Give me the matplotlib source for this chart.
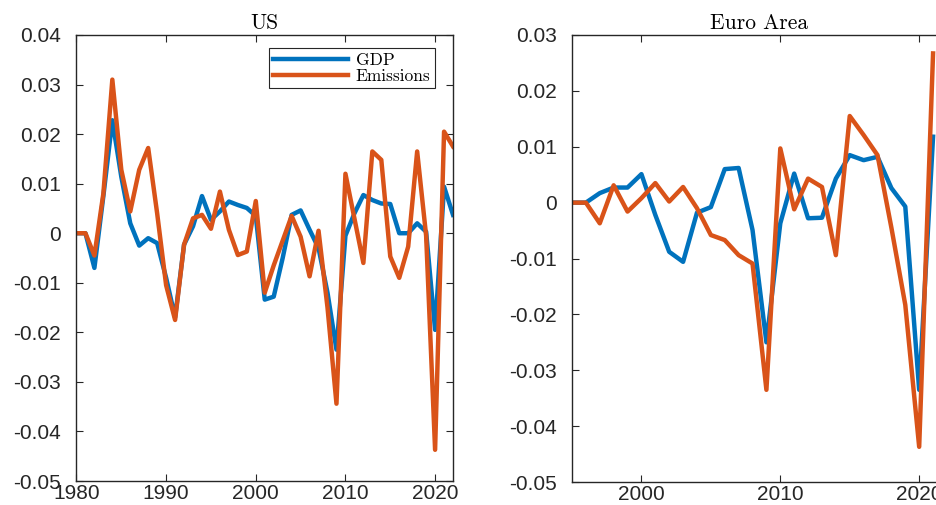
#!/usr/bin/env python3
"""
plot.py - cyclical components of GDP and emissions, US vs Euro Area

Output: out.png
"""

import matplotlib
matplotlib.use("Agg")
import matplotlib.pyplot as plt
from matplotlib.ticker import FuncFormatter, MultipleLocator

# ------------------------------------------------------------
# Data
# ------------------------------------------------------------
us_years = list(range(1980, 2023))
us_gdp = [0.0, 0.0, -0.007, 0.0075, 0.0228, 0.0114, 0.002, -0.0025, -0.001, -0.002,
          -0.009, -0.017, -0.0023, 0.0014, 0.0075, 0.0027, 0.0044, 0.0064, 0.0057, 0.0051,
          0.0035, -0.0134, -0.0128, -0.005, 0.0037, 0.0046, 0.0007, -0.003, -0.012, -0.0235,
          -0.0005, 0.004, 0.0077, 0.0067, 0.006, 0.0059, 0.0, 0.0, 0.002, 0.0003,
          -0.0195, 0.0094, 0.0037]
us_emis = [0.0, 0.0, -0.0045, 0.008, 0.031, 0.0128, 0.0044, 0.0128, 0.0172, 0.004,
           -0.0105, -0.0175, -0.0023, 0.003, 0.0037, 0.0009, 0.0084, 0.0007, -0.0044, -0.0037,
           0.0065, -0.012, -0.0065, -0.0015, 0.0035, -0.0007, -0.0087, 0.0005, -0.015, -0.0344,
           0.012, 0.003, -0.006, 0.0165, 0.0148, -0.0047, -0.009, -0.0027, 0.0165, -0.0005,
           -0.0437, 0.0205, 0.0175]

ea_years = list(range(1995, 2022))
ea_gdp = [0.0, 0.0, 0.0017, 0.0027, 0.0027, 0.0051, -0.0022, -0.0088, -0.0106, -0.0018,
          -0.0008, 0.006, 0.0062, -0.0049, -0.025, -0.0037, 0.0052, -0.0028, -0.0027, 0.0043,
          0.0085, 0.0076, 0.0082, 0.0026, -0.0007, -0.0335, 0.0118]
ea_emis = [0.0, 0.0, -0.0037, 0.0031, -0.0016, 0.0008, 0.0035, 0.0002, 0.0028, -0.001,
           -0.0058, -0.0067, -0.0094, -0.0109, -0.0335, 0.0097, -0.0012, 0.0043, 0.0028, -0.0094,
           0.0155, 0.0121, 0.0085, -0.0045, -0.0183, -0.0437, 0.0267]

# MATLAB default line colours
C_GDP = "#0072BD"
C_EMIS = "#D95319"
AX_COLOR = "#262626"

plt.rcParams["font.family"] = ["Liberation Sans", "DejaVu Sans"]
plt.rcParams["axes.unicode_minus"] = False

SERIF = "cmr10"


def tick_fmt(v, _):
    if abs(v) < 1e-12:
        return "0"
    return f"{v:g}"


def style_axes(ax):
    for s in ax.spines.values():
        s.set_color(AX_COLOR)
        s.set_linewidth(1.0)
    ax.tick_params(direction="in", top=True, right=True, length=5,
                   width=0.8, color=AX_COLOR, labelcolor=AX_COLOR,
                   labelsize=15)
    ax.tick_params(axis="y", pad=11)
    ax.tick_params(axis="x", pad=2.5)
    ax.yaxis.set_major_locator(MultipleLocator(0.01))
    ax.yaxis.set_major_formatter(FuncFormatter(tick_fmt))


fig = plt.figure(figsize=(9.36, 5.05), dpi=100)

# US panel
ax1 = fig.add_axes([0.0817, 0.0475, 0.4023, 0.8832])
ax1.plot(us_years, us_gdp, color=C_GDP, linewidth=3.2, label="GDP")
ax1.plot(us_years, us_emis, color=C_EMIS, linewidth=3.2, label="Emissions")
ax1.set_xlim(1980, 2022)
ax1.set_ylim(-0.05, 0.04)
ax1.set_xticks([1980, 1990, 2000, 2010, 2020])
style_axes(ax1)
ax1.set_title("US", fontfamily=SERIF, fontsize=15.5, pad=4)
leg = ax1.legend(loc="upper right", bbox_to_anchor=(0.952, 0.971),
                 borderaxespad=0, prop={"family": SERIF, "size": 12.5},
                 handlelength=4.3, handletextpad=0.45, labelspacing=0.05,
                 borderpad=0.25, fancybox=False, framealpha=1)
leg.get_frame().set_edgecolor(AX_COLOR)
leg.get_frame().set_linewidth(0.8)

# Euro Area panel (runs past the right edge of the canvas)
ax2 = fig.add_axes([0.6111, 0.0455, 0.4006, 0.8852])
ax2.plot(ea_years, ea_gdp, color=C_GDP, linewidth=3.2)
ax2.plot(ea_years, ea_emis, color=C_EMIS, linewidth=3.2)
ax2.set_xlim(1995, 2022)
ax2.set_ylim(-0.05, 0.03)
ax2.set_xticks([2000, 2010, 2020])
style_axes(ax2)
ax2.set_title("Euro Area", fontfamily=SERIF, fontsize=15.5, pad=4)

fig.savefig("out.png", dpi=100)
print("saved out.png")
